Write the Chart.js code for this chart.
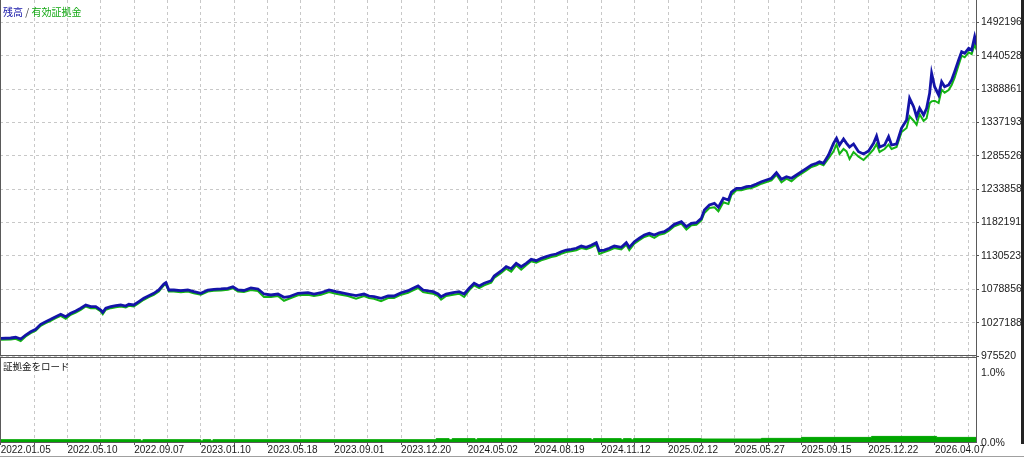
<!DOCTYPE html>
<html><head><meta charset="utf-8">
<script src="https://cdn.jsdelivr.net/npm/chart.js@4.4.1/dist/chart.umd.min.js"></script>
<style>
html,body{margin:0;padding:0;background:#fff;width:1024px;height:458px;overflow:hidden;position:relative;}
canvas{position:absolute;left:0;}
#c1{top:0;}
#c2{top:355px;}
.t{position:absolute;font-family:"Noto Sans CJK JP",sans-serif;white-space:nowrap;}
#title{left:3px;top:5px;font-size:10px;line-height:14px;}
#mlabel{left:3px;top:359px;font-size:9.5px;line-height:14px;color:#111;}
#edge{position:absolute;right:0;top:0;width:3px;height:444px;background:#222;}
#foot{position:absolute;left:0;top:456px;width:1024px;height:1px;background:#a0a0a0;}
</style></head>
<body>
<canvas id="c1" width="1024" height="366"></canvas>
<canvas id="c2" width="1024" height="103"></canvas>
<div class="t" id="title"><span style="color:#1414a8">残高</span><span style="color:#444"> / </span><span style="color:#14a814">有効証拠金</span></div>
<div class="t" id="mlabel">証拠金をロード</div>
<div id="edge"></div>
<div id="foot"></div>
<script>
// deal number (x) of each sampled point
const deals = [
0,30,45,60,75,90,105,120,135,150,
165,180,195,210,225,240,255,270,285,300,
306,315,330,345,360,375,384,399,414,429,
444,459,474,489,495,504,519,540,561,579,
600,621,639,660,681,696,711,729,750,771,
789,810,831,849,864,891,921,939,960,984,
1005,1020,1041,1065,1089,1104,1119,1140,1161,1179,
1200,1221,1236,1251,1266,1281,1296,1311,1320,1335,
1356,1374,1389,1404,1419,1434,1449,1470,1479,1500,
1515,1530,1545,1560,1575,1590,1605,1620,1635,1650,
1665,1680,1695,1710,1725,1740,1755,1770,1785,1794,
1809,1824,1839,1860,1875,1884,1899,1914,1929,1944,
1959,1974,1989,2004,2019,2040,2055,2070,2085,2100,
2109,2124,2139,2151,2166,2181,2190,2205,2220,2235,
2250,2265,2280,2295,2310,2325,2340,2355,2370,2385,
2400,2415,2430,2445,2454,2466,2481,2496,2505,2514,
2526,2535,2544,2556,2571,2586,2601,2616,2625,2634,
2649,2661,2670,2685,2700,2715,2724,2736,2745,2754,
2766,2775,2784,2790,2799,2811,2820,2829,2841,2850,
2859,2871,2880,2889,2901,2910,2919,2925];

const balance = [
1002900,1003400,1004500,1001800,1008000,1013100,1016900,1024600,1028600,1032300,
1036400,1040100,1036400,1041600,1045200,1049400,1054500,1051900,1051900,1046700,
1043200,1049400,1051900,1053400,1054500,1052900,1055600,1054500,1059600,1064900,
1068900,1072600,1077700,1087000,1089000,1077700,1077700,1076600,1077700,1075100,
1072600,1077700,1078800,1079300,1080300,1082800,1077700,1077000,1080800,1079300,
1071500,1070000,1071500,1066400,1067300,1072600,1073500,1071500,1073500,1077700,
1075100,1073500,1071500,1068900,1071500,1068400,1067300,1064900,1068400,1068400,
1073500,1076600,1080300,1083900,1077700,1076200,1075100,1071500,1067300,1071500,
1073500,1075100,1071500,1080300,1088100,1083900,1088100,1092100,1099400,1107100,
1113800,1110700,1119000,1113800,1119000,1125200,1123100,1126800,1129300,1131900,
1133400,1137000,1139600,1140700,1142300,1145800,1143800,1146900,1150900,1138600,
1139600,1142300,1145800,1143800,1150900,1143800,1152500,1157800,1162900,1165500,
1162900,1166400,1168000,1173200,1179400,1183500,1175700,1181000,1181900,1188700,
1201600,1209300,1211900,1205800,1219700,1217100,1229400,1235200,1235200,1237600,
1238700,1241800,1245400,1248000,1250700,1259300,1249100,1253100,1250700,1255800,
1260900,1266100,1271200,1273900,1276400,1273900,1286700,1304800,1312600,1302200,
1311500,1304800,1299100,1303800,1291800,1288300,1292900,1304800,1316100,1299100,
1302200,1315100,1302200,1303800,1328500,1340900,1374500,1361500,1346000,1359000,
1348700,1359000,1382300,1413200,1392500,1379600,1400200,1392500,1395100,1402900,
1415700,1433800,1446700,1444200,1451900,1449300,1469900,1457000];

const equity = [
1000600,1001100,1002200,998700,1005700,1010800,1014600,1022300,1026300,1030000,
1034100,1037800,1033300,1039300,1042900,1047100,1052200,1049600,1049600,1044400,
1040100,1047100,1049600,1051100,1052200,1050600,1053300,1052200,1057300,1062600,
1066600,1070300,1075400,1084700,1086700,1075400,1075400,1074300,1075400,1072800,
1070300,1075400,1076500,1077000,1078000,1080500,1075400,1074700,1077700,1076200,
1066900,1066900,1068400,1061000,1064200,1069500,1070400,1068400,1070400,1074600,
1072000,1070400,1068400,1064300,1068400,1065300,1064200,1060300,1065300,1065300,
1070400,1073500,1077200,1080800,1074600,1073100,1072000,1068400,1062700,1068400,
1070400,1072000,1066900,1077200,1085000,1080800,1085000,1089000,1096300,1104000,
1110700,1106100,1115900,1109200,1115900,1122100,1120000,1123700,1126200,1128800,
1130300,1133900,1136500,1137600,1139200,1142700,1140700,1143800,1147800,1133500,
1136500,1139200,1142700,1140700,1147800,1139200,1149400,1154700,1159800,1162400,
1158300,1163300,1164900,1170100,1176300,1180400,1171100,1177900,1178800,1185600,
1197000,1204700,1205700,1199600,1213500,1210900,1224800,1232100,1232100,1234500,
1235600,1238700,1242300,1244900,1247600,1256200,1244500,1250000,1246100,1252700,
1257800,1263000,1268100,1270800,1273300,1270800,1281300,1292400,1303300,1288300,
1296000,1292400,1280500,1291400,1284100,1279000,1286700,1295500,1303700,1291400,
1296000,1302700,1296000,1299200,1322300,1328500,1346600,1339800,1333600,1349700,
1339400,1343500,1366800,1369800,1370800,1367200,1387800,1383200,1387400,1395200,
1406400,1426100,1440500,1438000,1445700,1443100,1457500,1449300];

// margin load (%), held from each deal until the next
const marginDeals = [0,420,426,600,606,630,636,1305,1344,1353,1422,1428,1770,1776,1860,1866,1890,1896,2100,2280,2400,2610,2805,2925];
const marginLoad  = [0.047,0.03,0.047,0.03,0.047,0.03,0.047,0.062,0.045,0.062,0.045,0.062,0.045,0.062,0.045,0.062,0.045,0.062,0.057,0.066,0.08,0.094,0.08,0.08];

const dateLabels = ['2022.01.05','2022.05.10','2022.09.07','2023.01.10','2023.05.18','2023.09.01','2023.12.20','2024.05.02','2024.08.19','2024.11.12','2025.02.12','2025.05.27','2025.09.15','2025.12.22','2026.04.07'];
const yTickLabels = ['975520','1027188','1078856','1130523','1182191','1233858','1285526','1337193','1388861','1440528','1492196'];
const pctTickLabels = ['0.0%','1.0%'];
const pctTickValues = [0, 1];

const gridDeals = Array.from({length: 30}, (_, i) => i * 100);
const yTickValues = yTickLabels.map(Number);

const paneBorder = {
  id: 'paneBorder',
  afterDraw(chart, args, opts) {
    const {ctx, chartArea: a} = chart;
    ctx.save();
    ctx.strokeStyle = opts.color; ctx.lineWidth = 1; ctx.setLineDash([]);
    ctx.beginPath();
    (opts.sides || []).forEach(s => {
      if (s === 'left') { ctx.moveTo(a.left + 0.5, a.top); ctx.lineTo(a.left + 0.5, a.bottom); }
      if (s === 'right') { ctx.moveTo(a.right + 0.5, a.top); ctx.lineTo(a.right + 0.5, a.bottom); }
      if (s === 'top') { ctx.moveTo(a.left, a.top + 0.5); ctx.lineTo(a.right + 1, a.top + 0.5); }
      if (s === 'bottom') { ctx.moveTo(a.left, a.bottom - 0.5); ctx.lineTo(a.right + 1, a.bottom - 0.5); }
    });
    ctx.stroke(); ctx.restore();
  }
};

const tickFont = {family: "'Liberation Sans', Arial, sans-serif", size: 10.5};
const textColor = '#1a1a1a';
const gridColor = '#c8c8c8';

new Chart(document.getElementById('c1'), {
  type: 'line',
  data: {datasets: [
    {label: '残高', data: deals.map((d, i) => ({x: d, y: balance[i]})), borderColor: '#1414a8', borderWidth: 2.8, pointRadius: 0, tension: 0},
    {label: '有効証拠金', data: deals.map((d, i) => ({x: d, y: equity[i]})), borderColor: '#14b414', borderWidth: 2, pointRadius: 0, tension: 0}
  ]},
  options: {
    responsive: false, animation: false, devicePixelRatio: 1,
    layout: {padding: 0},
    plugins: {legend: {display: false}, tooltip: {enabled: false}, paneBorder: {color: '#5a5a5a', sides: ['left', 'right', 'bottom']}},
    scales: {
      x: {type: 'linear', min: -2, max: 2923, position: 'bottom',
        afterBuildTicks: s => { s.ticks = gridDeals.map(v => ({value: v})); },
        afterFit: s => { s.height = 10; s.paddingLeft = 0; s.paddingRight = 0; },
        ticks: {display: false},
        grid: {color: gridColor, drawTicks: false},
        border: {display: false, dash: [3, 3]}},
      y: {type: 'linear', position: 'right', min: 975520, max: 1526715,
        afterBuildTicks: s => { s.ticks = yTickValues.map(v => ({value: v})); },
        afterFit: s => { s.width = 48; s.paddingTop = 0; s.paddingBottom = 0; },
        ticks: {autoSkip: false, padding: 2, color: textColor, font: tickFont, callback: (v, i) => yTickLabels[i]},
        grid: {color: gridColor, tickLength: 3, tickColor: '#555', tickBorderDash: []},
        border: {display: false, dash: [3, 3]}}
    }
  },
  plugins: [paneBorder]
});

new Chart(document.getElementById('c2'), {
  type: 'line',
  data: {datasets: [
    {label: '証拠金をロード', data: marginDeals.map((d, i) => ({x: d, y: marginLoad[i]})), stepped: true, fill: 'origin',
     backgroundColor: '#00a600', borderColor: '#00a600', borderWidth: 1, pointRadius: 0}
  ]},
  options: {
    responsive: false, animation: false, devicePixelRatio: 1,
    layout: {padding: {top: 2, left: 0, right: 0, bottom: 0}},
    plugins: {legend: {display: false}, tooltip: {enabled: false}, paneBorder: {color: '#5a5a5a', sides: ['top', 'left', 'right', 'bottom']}},
    scales: {
      x: {type: 'linear', min: -2, max: 2923, position: 'bottom',
        afterBuildTicks: s => { s.ticks = gridDeals.map(v => ({value: v})); },
        afterFit: s => { s.height = 15; s.paddingLeft = 0; s.paddingRight = 0; },
        ticks: {autoSkip: false, maxRotation: 0, minRotation: 0, align: 'start', padding: 0, color: textColor,
          font: {family: "'Liberation Sans', Arial, sans-serif", size: 10, lineHeight: 1},
          callback: (v, i) => (i % 2 === 0 ? dateLabels[i / 2] : '')},
        grid: {color: gridColor, tickLength: 2, tickColor: '#555', tickBorderDash: []},
        border: {display: false, dash: [3, 3]}},
      y: {type: 'linear', position: 'right', min: 0, max: 1.2286,
        afterBuildTicks: s => { s.ticks = pctTickValues.map(v => ({value: v})); },
        afterFit: s => { s.width = 48; s.paddingTop = 0; s.paddingBottom = 0; },
        ticks: {autoSkip: false, padding: 5, color: textColor, font: tickFont, callback: (v, i) => pctTickLabels[i]},
        grid: {display: false, drawTicks: false},
        border: {display: false}}
    }
  },
  plugins: [paneBorder]
});
</script>
</body></html>
